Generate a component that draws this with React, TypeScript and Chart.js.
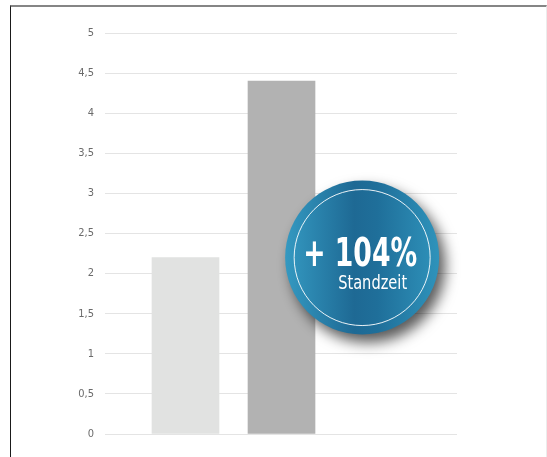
import React, { useEffect, useRef } from "react";
import { Chart, registerables } from "chart.js";

Chart.register(...registerables);

const categories = ["Standard", "Neu"];
const values = [2.2, 4.4];
const barColors = ["#e1e2e1", "#b2b2b2"];
const yTicks = { min: 0, max: 5, step: 0.5 };
const badgeMain = "+ 104%";
const badgeSub = "Standzeit";
const badgeAnchor = { x: 2.84, y: 2.2 };

const FONT = "'Liberation Sans Narrow', 'DejaVu Sans Condensed', 'Open Sans', sans-serif";

function fitText(ctx: any, text: string, font: string, left: number, baseline: number, width: number) {
  ctx.save();
  ctx.font = font;
  ctx.textAlign = "left";
  const w = ctx.measureText(text).width;
  const sx = width / w;
  ctx.translate(left, baseline);
  ctx.scale(sx, 1);
  ctx.fillText(text, 0, 0);
  ctx.restore();
}

const badgePlugin = {
  id: "badge",
  afterDatasetsDraw(chart: any) {
    const { ctx, scales } = chart;
    const cx = scales.x.getPixelForValue(badgeAnchor.x);
    const cy = scales.y.getPixelForValue(badgeAnchor.y);
    const r = 77;
    ctx.save();
    ctx.shadowColor = "rgba(0,0,0,0.65)";
    ctx.shadowBlur = 14;
    ctx.shadowOffsetX = 6;
    ctx.shadowOffsetY = 8;
    const g = ctx.createLinearGradient(cx - r, 0, cx + r, 0);
    g.addColorStop(0, "#3499c1");
    g.addColorStop(0.45, "#1e6994");
    g.addColorStop(0.6, "#1f6f9a");
    g.addColorStop(1, "#2f93bb");
    ctx.fillStyle = g;
    ctx.beginPath();
    ctx.arc(cx, cy, r, 0, Math.PI * 2);
    ctx.fill();
    ctx.restore();

    ctx.save();
    ctx.strokeStyle = "rgba(255,255,255,0.9)";
    ctx.lineWidth = 1;
    ctx.beginPath();
    ctx.arc(cx, cy, r - 9, 0, Math.PI * 2);
    ctx.stroke();
    ctx.fillStyle = "#ffffff";
    fitText(ctx, badgeMain, "bold 39px " + FONT, cx - 59, cy + 8, 114);
    fitText(ctx, badgeSub, "20px " + FONT, cx - 24, cy + 31, 69);
    ctx.restore();
  },
};

export default function App() {
  const ref = useRef<HTMLCanvasElement>(null);
  useEffect(() => {
    if (!ref.current) return;
    const chart = new Chart(ref.current, {
      type: "bar",
      data: {
        labels: categories,
        datasets: [
          {
            data: values.map((v, i) => ({ x: i + 1, y: v })),
            backgroundColor: barColors,
            barThickness: 67,
          },
        ],
      },
      options: {
        animation: false,
        responsive: false,
        layout: { padding: { top: 33, bottom: 23, right: 90, left: 0 } },
        plugins: { legend: { display: false }, tooltip: { enabled: false } },
        scales: {
          x: {
            type: "linear",
            min: 0.1615,
            max: 3.828,
            offset: false,
            display: false,
          },
          y: {
            min: yTicks.min,
            max: yTicks.max,
            afterFit: (s: any) => {
              s.width = 105;
            },
            border: { display: false },
            grid: { color: "#e4e4e4", lineWidth: 1, drawTicks: false },
            ticks: {
              stepSize: yTicks.step,
              padding: 11,
              color: "#6b6b6b",
              font: { family: FONT, size: 11 },
              callback: (v: any) => String(v).replace(".", ","),
            },
          },
        },
      },
      plugins: [badgePlugin],
    });
    return () => chart.destroy();
  }, []);
  return (
    <div style={{ position: "fixed", left: 0, top: 0, width: 547, height: 457, background: "#fff" }}>
      <canvas ref={ref} width={547} height={457} style={{ position: "absolute", left: 0, top: 0 }} />
      <div
        style={{
          position: "absolute",
          left: 10,
          top: 5,
          width: 537,
          height: 452,
          borderTop: "2px solid #858585",
          borderLeft: "1px solid #1a1a1a",
          borderRight: "1px solid #ececec",
          boxSizing: "border-box",
          pointerEvents: "none",
        }}
      />
    </div>
  );
}
